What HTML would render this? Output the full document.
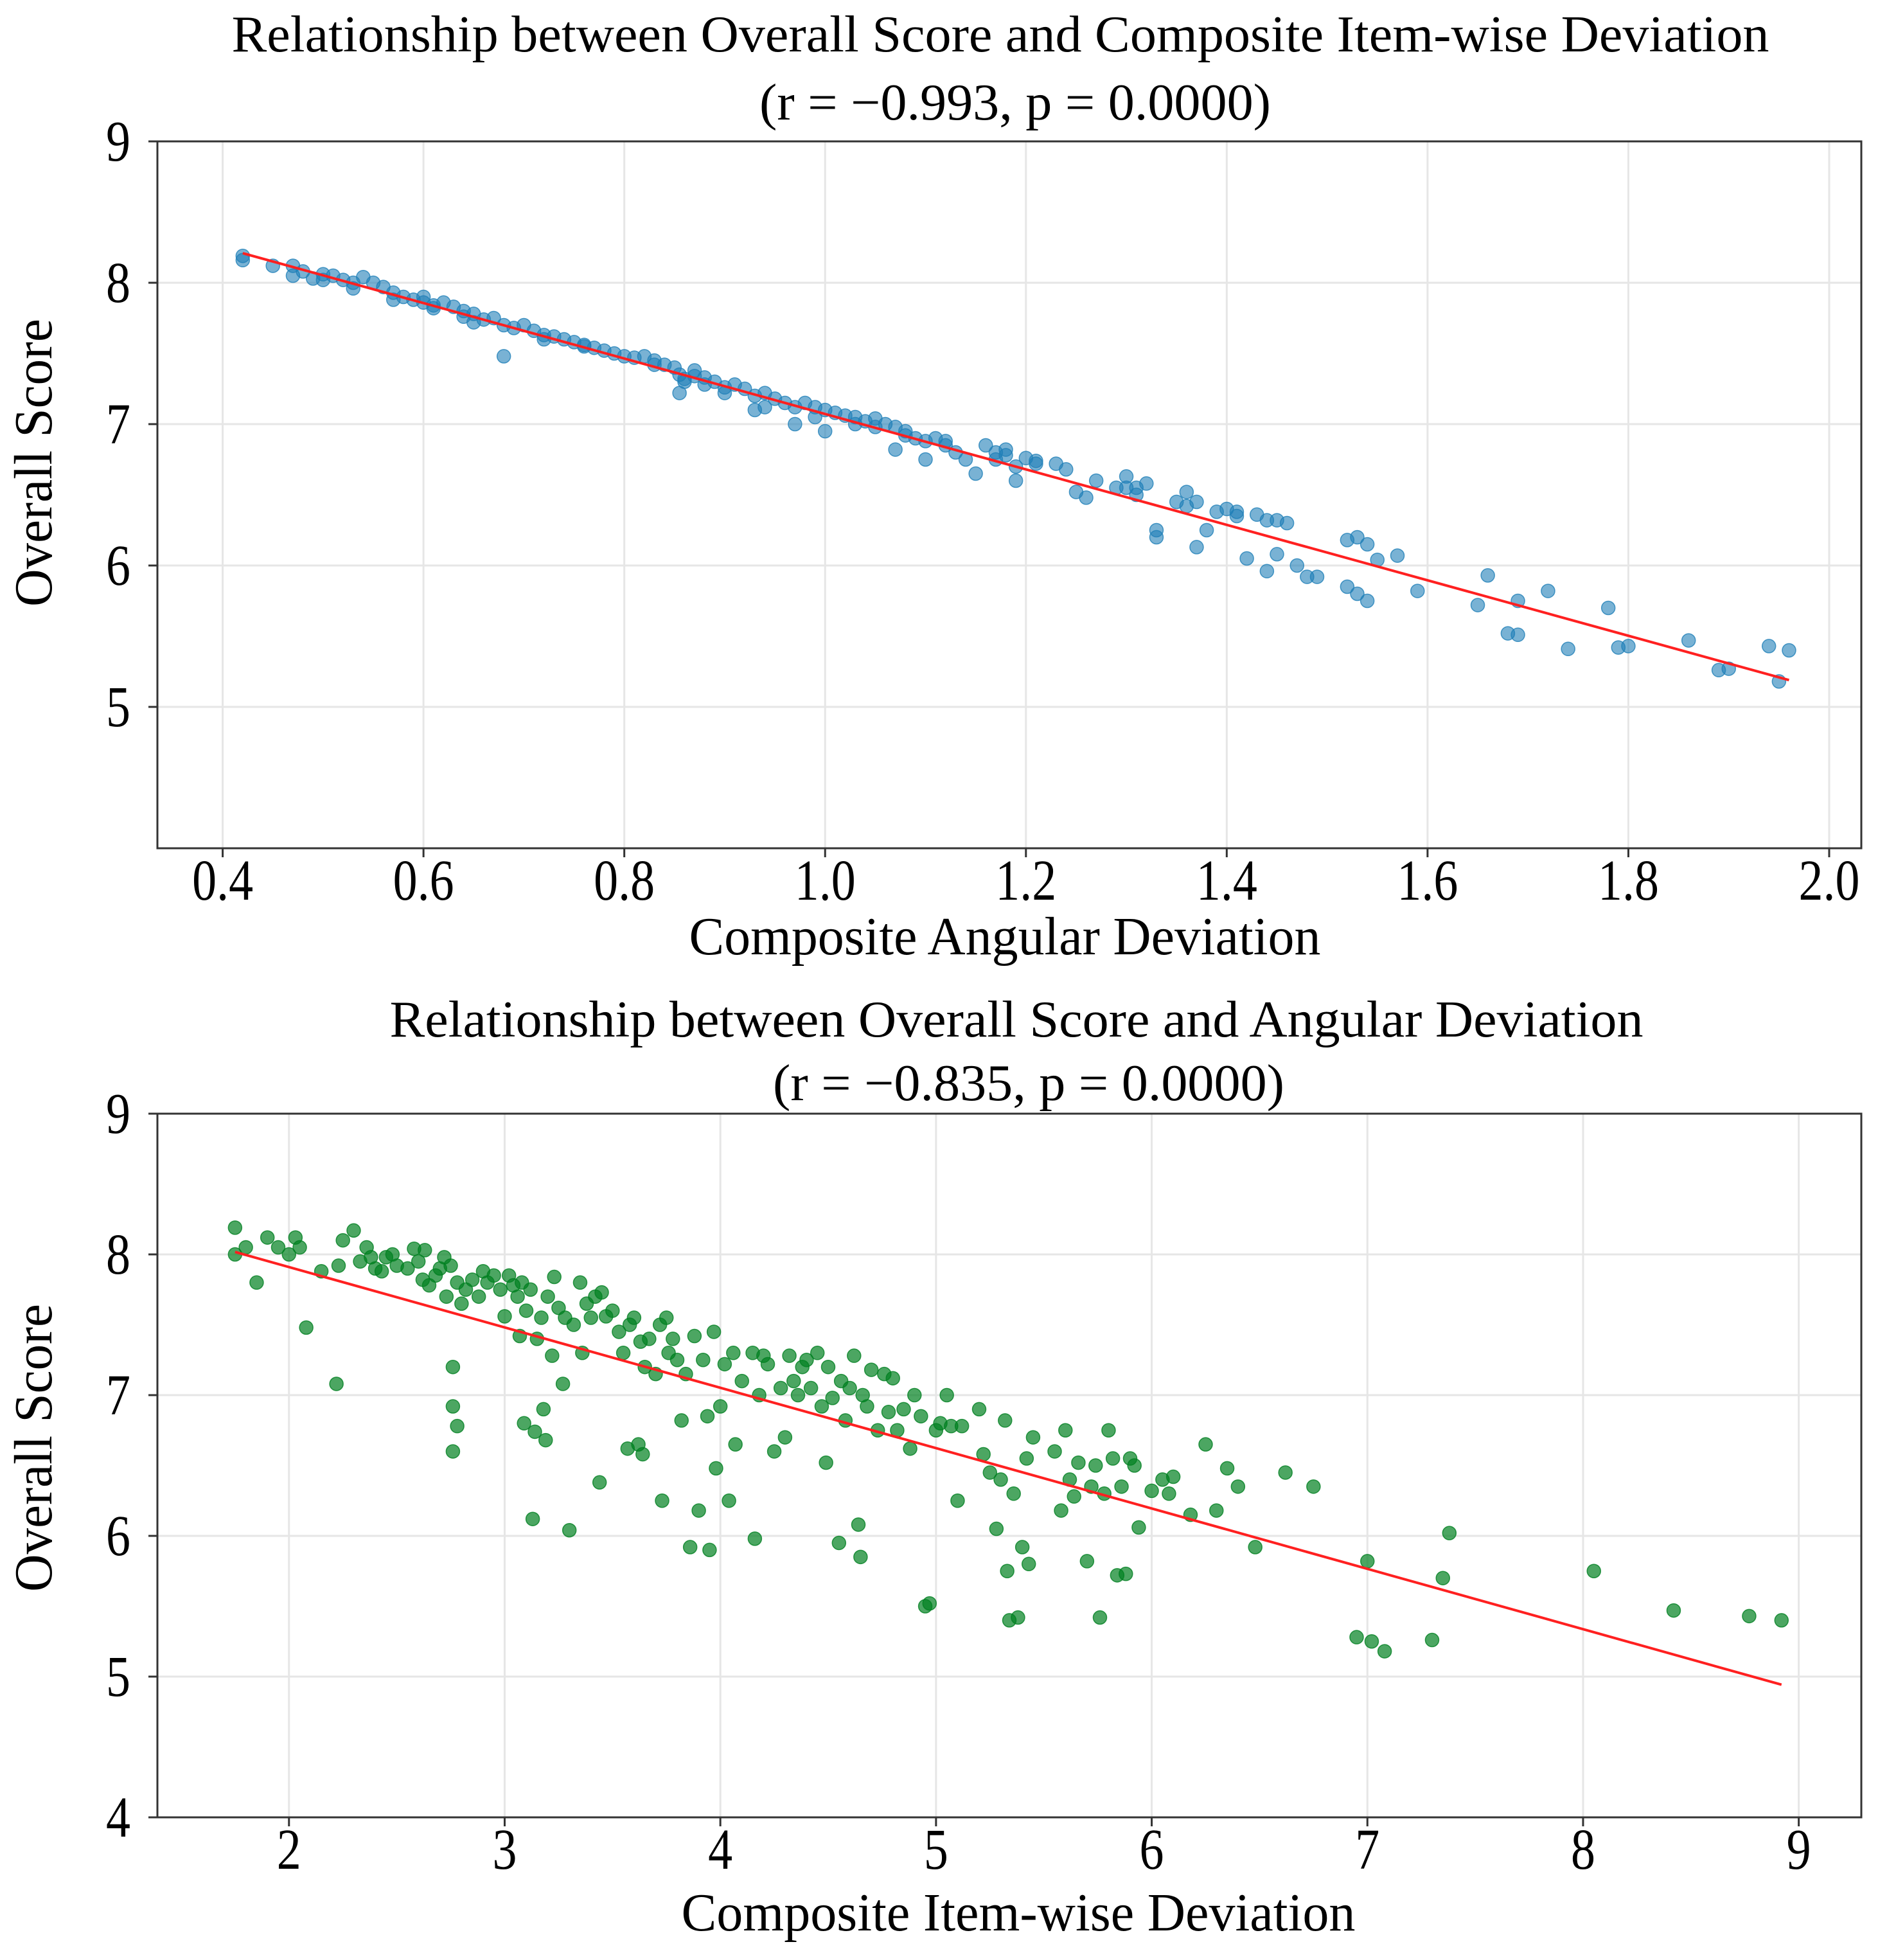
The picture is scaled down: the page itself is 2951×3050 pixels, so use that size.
<!DOCTYPE html>
<html><head><meta charset="utf-8"><style>
html,body{margin:0;padding:0;background:#fff}
svg{display:block}
text{font-family:"Liberation Serif",serif;fill:#000}
</style></head><body>
<svg id="fig" width="2951" height="3050" viewBox="0 0 2951 3050" xmlns="http://www.w3.org/2000/svg">
<g>
<text x="1557" y="80" font-size="80" text-anchor="middle" textLength="2393" lengthAdjust="spacingAndGlyphs">Relationship between Overall Score and Composite Item-wise Deviation</text>
<text x="1580" y="186" font-size="80" text-anchor="middle" textLength="796" lengthAdjust="spacingAndGlyphs">(r = −0.993, p = 0.0000)</text>
<g id="top-plot"></g>
<text x="1564" y="1485" font-size="84" text-anchor="middle" textLength="983" lengthAdjust="spacingAndGlyphs">Composite Angular Deviation</text>
<text transform="translate(80,720) rotate(-90)" font-size="84" text-anchor="middle" textLength="448" lengthAdjust="spacingAndGlyphs">Overall Score</text>
</g>
<g>
<text x="1582" y="1613" font-size="80" text-anchor="middle" textLength="1951" lengthAdjust="spacingAndGlyphs">Relationship between Overall Score and Angular Deviation</text>
<text x="1601" y="1712" font-size="80" text-anchor="middle" textLength="796" lengthAdjust="spacingAndGlyphs">(r = −0.835, p = 0.0000)</text>
<g id="bot-plot"></g>
<text x="1585" y="3004" font-size="84" text-anchor="middle" textLength="1049" lengthAdjust="spacingAndGlyphs">Composite Item-wise Deviation</text>
<text transform="translate(80,2253) rotate(-90)" font-size="84" text-anchor="middle" textLength="448" lengthAdjust="spacingAndGlyphs">Overall Score</text>
</g>
</svg>
<script>
const topX=[0.42,0.42,0.45,0.47,0.47,0.48,0.49,0.50,0.51,0.52,0.53,0.54,0.55,0.56,0.57,0.58,0.59,0.60,0.60,0.61,0.62,0.63,0.64,0.64,0.65,0.66,0.67,0.68,0.69,0.68,0.70,0.71,0.72,0.73,0.74,0.75,0.76,0.77,0.78,0.79,0.80,0.81,0.82,0.83,0.84,0.85,0.855,0.86,0.855,0.87,0.88,0.89,0.90,0.91,0.92,0.93,0.93,0.94,0.95,0.96,0.97,0.97,0.98,0.99,1.00,1.00,1.01,1.02,1.03,1.04,1.05,1.06,1.07,1.07,1.08,1.09,1.10,1.10,1.11,1.12,1.13,1.14,1.15,1.16,1.17,1.18,1.19,1.19,1.20,1.21,1.23,1.24,1.25,1.26,1.27,1.29,1.30,1.30,1.31,1.32,1.33,1.33,1.35,1.36,1.36,1.37,1.38,1.39,1.40,1.41,1.42,1.43,1.44,1.44,1.45,1.46,1.47,1.48,1.49,1.52,1.53,1.52,1.53,1.54,1.54,1.55,1.57,1.59,1.65,1.66,1.68,1.69,1.69,1.72,1.74,1.78,1.79,1.80,1.86,1.89,1.90,1.94,1.95,1.96,0.50,0.53,0.57,0.61,0.65,0.72,0.76,0.83,0.86,0.87,0.88,0.90,0.94,0.99,1.03,1.05,1.08,1.12,1.17,1.18,1.21,1.31,1.37,1.41,1.45];
const topY=[8.19,8.16,8.12,8.12,8.05,8.08,8.03,8.06,8.05,8.02,8.00,8.04,8.00,7.97,7.93,7.90,7.88,7.86,7.90,7.84,7.86,7.83,7.80,7.76,7.78,7.74,7.75,7.70,7.68,7.48,7.70,7.66,7.63,7.62,7.60,7.58,7.56,7.54,7.52,7.50,7.48,7.47,7.48,7.45,7.42,7.40,7.35,7.30,7.22,7.34,7.33,7.30,7.26,7.28,7.25,7.20,7.10,7.22,7.18,7.15,7.12,7.00,7.15,7.12,7.10,6.95,7.08,7.06,7.05,7.02,7.04,7.00,6.98,6.82,6.95,6.90,6.88,6.75,6.90,6.85,6.80,6.75,6.65,6.85,6.80,6.78,6.70,6.60,6.76,6.74,6.72,6.68,6.52,6.48,6.60,6.55,6.55,6.63,6.50,6.58,6.25,6.20,6.45,6.42,6.52,6.13,6.25,6.38,6.40,6.35,6.05,6.36,6.32,5.96,6.08,6.30,6.00,5.92,5.92,6.18,6.20,5.85,5.80,6.15,5.75,6.04,6.07,5.82,5.72,5.93,5.52,5.51,5.75,5.82,5.41,5.70,5.42,5.43,5.47,5.26,5.27,5.43,5.18,5.40,8.02,7.96,7.88,7.82,7.72,7.60,7.55,7.42,7.32,7.38,7.28,7.22,7.12,7.05,7.00,6.98,6.92,6.88,6.75,6.82,6.72,6.55,6.45,6.38,6.32];
const topXTicks=["0.4","0.6","0.8","1.0","1.2","1.4","1.6","1.8","2.0"];
const topYTicks=["5","6","7","8","9"];
const botX=[1.75,1.75,1.80,1.85,1.90,1.95,2.00,2.03,2.05,2.08,2.15,2.22,2.23,2.25,2.30,2.33,2.36,2.38,2.40,2.43,2.45,2.48,2.50,2.55,2.58,2.60,2.62,2.63,2.65,2.68,2.70,2.72,2.73,2.75,2.76,2.76,2.76,2.78,2.78,2.80,2.82,2.85,2.88,2.90,2.92,2.95,2.98,3.00,3.02,3.04,3.06,3.07,3.08,3.09,3.10,3.12,3.13,3.14,3.15,3.17,3.18,3.19,3.20,3.22,3.23,3.25,3.27,3.28,3.30,3.32,3.35,3.36,3.38,3.40,3.42,3.44,3.45,3.47,3.50,3.53,3.55,3.57,3.58,3.60,3.62,3.63,3.64,3.65,3.67,3.70,3.72,3.73,3.75,3.76,3.78,3.80,3.82,3.84,3.86,3.88,3.90,3.92,3.94,3.95,3.97,3.98,4.00,4.02,4.04,4.06,4.07,4.10,4.15,4.16,4.18,4.20,4.22,4.25,4.28,4.30,4.32,4.34,4.36,4.38,4.40,4.42,4.45,4.47,4.49,4.50,4.52,4.55,4.56,4.58,4.60,4.62,4.64,4.65,4.66,4.68,4.70,4.73,4.76,4.78,4.80,4.82,4.85,4.88,4.90,4.93,4.95,4.97,5.00,5.02,5.05,5.07,5.10,5.12,5.20,5.22,5.25,5.28,5.30,5.32,5.33,5.34,5.36,5.38,5.40,5.42,5.43,5.45,5.55,5.58,5.60,5.62,5.64,5.66,5.70,5.72,5.74,5.76,5.78,5.80,5.82,5.84,5.86,5.88,5.90,5.92,5.94,6.00,6.05,6.08,6.10,6.18,6.25,6.30,6.35,6.40,6.48,6.62,6.75,6.95,7.00,7.02,7.08,7.30,7.35,7.38,8.05,8.42,8.77,8.92];
const botY=[8.19,8.00,8.05,7.80,8.12,8.05,8.00,8.12,8.05,7.48,7.88,7.08,7.92,8.10,8.17,7.95,8.05,7.98,7.90,7.88,7.98,8.00,7.92,7.90,8.04,7.95,7.82,8.03,7.78,7.85,7.90,7.98,7.70,7.92,7.20,6.92,6.60,6.78,7.80,7.65,7.75,7.82,7.70,7.88,7.80,7.85,7.75,7.56,7.85,7.78,7.70,7.42,7.80,6.80,7.60,7.75,6.12,6.74,7.40,7.55,6.90,6.68,7.70,7.28,7.84,7.62,7.08,7.55,6.04,7.50,7.80,7.30,7.65,7.55,7.70,6.38,7.73,7.56,7.60,7.45,7.30,6.62,7.50,7.55,6.65,7.38,6.58,7.20,7.40,7.15,7.50,6.25,7.55,7.30,7.40,7.25,6.82,7.15,5.92,7.42,6.18,7.25,6.85,5.90,7.45,6.48,6.92,7.22,6.25,7.30,6.65,7.10,7.30,5.98,7.00,7.28,7.22,6.60,7.05,6.70,7.28,7.10,7.00,7.20,7.25,7.05,7.30,6.92,6.52,7.20,6.98,5.95,7.10,6.82,7.05,7.28,6.08,5.85,7.00,6.92,7.18,6.75,7.15,6.88,7.12,6.75,6.90,6.62,7.00,6.85,5.50,5.52,6.75,6.80,7.00,6.78,6.25,6.78,6.90,6.58,6.45,6.05,6.40,6.82,5.75,5.40,6.30,5.42,5.92,6.55,5.80,6.70,6.60,6.18,6.75,6.40,6.28,6.52,5.82,6.35,6.50,5.42,6.30,6.75,6.55,5.72,6.35,5.73,6.55,6.50,6.06,6.32,6.40,6.30,6.42,6.15,6.65,6.18,6.48,6.35,5.92,6.45,6.35,5.28,5.82,5.25,5.18,5.26,5.70,6.02,5.75,5.47,5.43,5.40];
const botXTicks=["2","3","4","5","6","7","8","9"];
const botYTicks=["4","5","6","7","8","9"];

const NS="http://www.w3.org/2000/svg";
function mk(parent,tag,attrs){const e=document.createElementNS(NS,tag);for(const k in attrs)e.setAttribute(k,attrs[k]);parent.appendChild(e);return e;}
function drawChart(g,cfg){
  const sx=v=>cfg.L+(v-cfg.x0)/(cfg.x1-cfg.x0)*(cfg.R-cfg.L);
  const sy=v=>cfg.B-(v-cfg.y0)/(cfg.y1-cfg.y0)*(cfg.B-cfg.T);
  cfg.xt.forEach(t=>{const x=sx(parseFloat(t));
    const gl=mk(g,'line',{x1:x,x2:x,y1:cfg.T,y2:cfg.B,stroke:'#e6e6e6','stroke-width':3});
    
    
    const tk=mk(g,'line',{x1:x,x2:x,y1:cfg.B,y2:cfg.B+14,stroke:'#333','stroke-width':3});
    
    
    const tx=mk(g,'text',{x:x,y:cfg.B+80,'font-size':90,'text-anchor':'middle'});
    tx.setAttribute('textLength',t.length>1?95:38);
    tx.setAttribute('lengthAdjust','spacingAndGlyphs');
    tx.textContent=t;
    
    
  });
  cfg.yt.forEach(t=>{const y=sy(parseFloat(t));
    if(y>cfg.T+2&&y<cfg.B-2){const gl=mk(g,'line',{x1:cfg.L,x2:cfg.R,y1:y,y2:y,stroke:'#e6e6e6','stroke-width':3});
    
    }
    const tk=mk(g,'line',{x1:cfg.L-14,x2:cfg.L,y1:y,y2:y,stroke:'#333','stroke-width':3});
    
    
    const tx=mk(g,'text',{x:cfg.L-42,y:y+30,'font-size':90,'text-anchor':'end',textLength:38,lengthAdjust:'spacingAndGlyphs'});
    tx.textContent=t;
    
    
  });
  for(let i=0;i<cfg.xs.length;i++){
    const c=mk(g,'circle',{cx:sx(cfg.xs[i]),cy:sy(cfg.ys[i]),r:10.5,fill:cfg.color,'fill-opacity':cfg.op,stroke:cfg.color,'stroke-opacity':0.8,'stroke-width':1.5});
    
    
  }
  const n=cfg.xs.length;let mx=0,my=0;for(let i=0;i<n;i++){mx+=cfg.xs[i];my+=cfg.ys[i];}mx/=n;my/=n;
  let sxy=0,sxx=0;for(let i=0;i<n;i++){sxy+=(cfg.xs[i]-mx)*(cfg.ys[i]-my);sxx+=(cfg.xs[i]-mx)**2;}
  const b=sxy/sxx,a=my-b*mx;const xa=Math.min(...cfg.xs),xb=Math.max(...cfg.xs);
  const ln=mk(g,'line',{x1:sx(xa),y1:sy(a+b*xa),x2:sx(xb),y2:sy(a+b*xb),stroke:'#ff2020','stroke-width':4});
  
  
  const fr=mk(g,'rect',{x:cfg.L,y:cfg.T,width:cfg.R-cfg.L,height:cfg.B-cfg.T,fill:'none',stroke:'#333','stroke-width':3});
  
  
}
drawChart(document.getElementById('top-plot'),{L:245,R:2897,T:220,B:1320,x0:0.335,x1:2.032,y0:4,y1:9,xt:topXTicks,yt:topYTicks,xs:topX,ys:topY,color:'#1f7fb8',op:0.6});
drawChart(document.getElementById('bot-plot'),{L:245,R:2897,T:1733,B:2828,x0:1.39,x1:9.29,y0:4,y1:9,xt:botXTicks,yt:botYTicks,xs:botX,ys:botY,color:'#008020',op:0.7});
</script>
</body></html>
